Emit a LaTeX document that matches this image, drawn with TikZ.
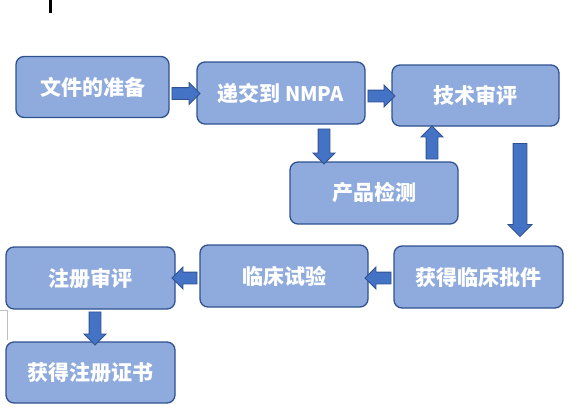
\documentclass[tikz,border=0pt]{standalone}
\usepackage{fontspec}
\setmainfont{Noto Sans CJK SC}
\usetikzlibrary{shapes.arrows}
\definecolor{boxfill}{HTML}{8FAADC}
\definecolor{boxline}{HTML}{2F528F}
\definecolor{arrfill}{HTML}{4472C4}
\tikzset{
  stepbox/.style={draw=boxline, line width=1.3pt, fill=boxfill, rounded corners=8pt,
    text=white, font=\fontsize{21}{25}\selectfont\bfseries, inner sep=0pt},
  barrow/.style={single arrow, draw=boxline, line width=0.8pt, fill=arrfill,
    inner sep=0pt, inner ysep=5.5pt, minimum width=0pt, single arrow head extend=5pt,
    single arrow tip angle=90},
}
\begin{document}
\begin{tikzpicture}[x=1pt,y=-1pt]
\useasboundingbox (0,0) rectangle (580,412);
% artifacts
\fill[black] (48.5,0) rectangle (51.5,13);
\draw[gray!50, line width=0.6pt] (0,310) -- (7,310) -- (7,340);
% boxes
\node[stepbox, minimum width=153pt, minimum height=61pt] (n1) at (92.5,87) {文件的准备};
\node[stepbox, minimum width=168pt, minimum height=62pt] (n2) at (281,93) {递交到 {\fontsize{20}{24}\selectfont N\kern-0.5pt M\kern-0.5pt P\kern-0.5pt A}};
\node[stepbox, minimum width=167pt, minimum height=61pt] (n3) at (475.5,95.5) {技术审评};
\node[stepbox, minimum width=168pt, minimum height=62pt] (n4) at (374,193) {产品检测};
\node[stepbox, minimum width=169pt, minimum height=62pt] (n5) at (478.5,277) {获得临床批件};
\node[stepbox, minimum width=168pt, minimum height=62pt] (n6) at (284,276) {临床试验};
\node[stepbox, minimum width=169pt, minimum height=62pt] (n7) at (90.5,278) {注册审评};
\node[stepbox, minimum width=169pt, minimum height=61pt] (n8) at (90.5,372.5) {获得注册证书};
% block arrows
\node[barrow, minimum height=28pt] (a1) at (183,93.5) {};
\node[barrow, minimum height=27pt] (a2) at (378.5,96) {};
\node[barrow, minimum height=35pt, rotate=-90] (a3) at (324,143.5) {};
\node[barrow, minimum height=33pt, rotate=90] (a4) at (432,145.5) {};
\node[barrow, minimum height=93pt, rotate=-90, inner ysep=6.5pt] (a5) at (520,186.5) {};
\node[barrow, minimum height=26pt, rotate=180] (a6) at (381,278) {};
\node[barrow, minimum height=25pt, rotate=180] (a7) at (187.5,278) {};
\node[barrow, minimum height=33pt, rotate=-90] (a8) at (95,325.5) {};
\end{tikzpicture}
\end{document}
